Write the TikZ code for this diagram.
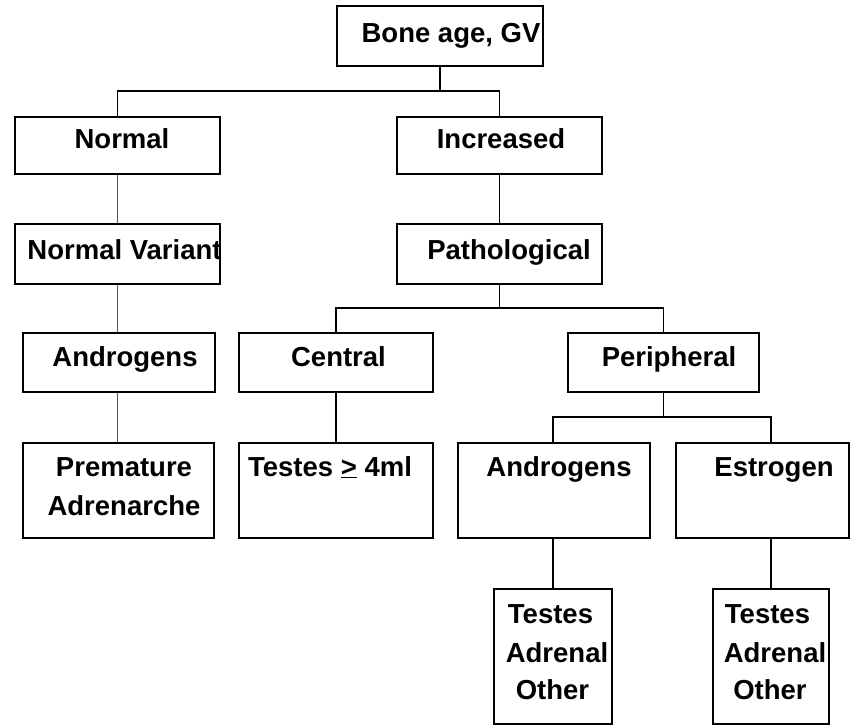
\documentclass[tikz,border=0pt]{standalone}
\usepackage{fontspec}
\setmainfont{Liberation Sans}
\begin{document}
\begin{tikzpicture}[x=1pt,y=-1pt,
  box/.style={draw=black, line width=2pt, inner sep=0pt},
  txt/.style={font=\bfseries\fontsize{27.5}{38}\selectfont, inner sep=0pt, anchor=base},
  link/.style={draw=black, line width=1.8pt},
  softlink/.style={draw=black!65, line width=1.5pt}]
\useasboundingbox (0,0) rectangle (850,725);
% boxes
\node[box, minimum width=206pt, minimum height=60pt] (bone) at (440,36) {};
\node[box, minimum width=205pt, minimum height=57pt] (normal) at (117.5,145.5) {};
\node[box, minimum width=205pt, minimum height=57pt] (incr) at (499.5,145.5) {};
\node[box, minimum width=205pt, minimum height=60pt] (nv) at (117.5,254) {};
\node[box, minimum width=205pt, minimum height=60pt] (path) at (499.5,254) {};
\node[box, minimum width=192pt, minimum height=59pt] (andL) at (119,362.5) {};
\node[box, minimum width=194pt, minimum height=59pt] (cent) at (336,362.5) {};
\node[box, minimum width=191pt, minimum height=59pt] (peri) at (663.5,362.5) {};
\node[box, minimum width=191pt, minimum height=95pt] (prem) at (118.5,490.5) {};
\node[box, minimum width=194pt, minimum height=95pt] (test) at (336,490.5) {};
\node[box, minimum width=192pt, minimum height=95pt] (andR) at (554,490.5) {};
\node[box, minimum width=173pt, minimum height=95pt] (estr) at (762.5,490.5) {};
\node[box, minimum width=118pt, minimum height=135pt] (taoL) at (553,656.5) {};
\node[box, minimum width=116pt, minimum height=135pt] (taoR) at (771,656.5) {};
% texts
\node[txt] (t-bone) at (451,42) {Bone age, GV};
\node[txt] (t-normal) at (122,148) {Normal};
\node[txt] (t-incr) at (501,148) {Increased};
\node[txt] (t-nv) at (124.5,259) {Normal Variant};
\node[txt] (t-path) at (509,259) {Pathological};
\node[txt] (t-andL) at (125,366) {Androgens};
\node[txt] (t-cent) at (338.5,366) {Central};
\node[txt] (t-peri) at (669,366) {Peripheral};
\node[txt] (t-prem1) at (124,476) {Premature};
\node[txt] (t-prem2) at (124,515) {Adrenarche};
\node[txt] (t-test) at (330,476) {Testes \underline{>} 4ml};
\node[txt] (t-andR) at (559,476) {Androgens};
\node[txt] (t-estr) at (774,476) {Estrogen};
\node[txt] (t-taoL1) at (550.5,623) {Testes};
\node[txt] (t-taoL2) at (557,662) {Adrenal};
\node[txt] (t-taoL3) at (552.5,699) {Other};
\node[txt] (t-taoR1) at (767.5,623) {Testes};
\node[txt] (t-taoR2) at (775,662) {Adrenal};
\node[txt] (t-taoR3) at (770,699) {Other};
% junctions
\coordinate (j1) at (0,91);
\coordinate (j2) at (0,308);
\coordinate (j3) at (0,417);
% connectors
\draw[link] (bone.south) -- (bone.south |- j1);
\draw[link] (normal.north) |- (j1 -| incr.north) -- (incr.north);
\draw[softlink] (normal.south) -- (nv.north);
\draw[softlink] (nv.south) -- (nv.south |- andL.north);
\draw[softlink] (nv.south |- andL.south) -- (nv.south |- prem.north);
\draw[link] (incr.south) -- (path.north);
\draw[link] (path.south) -- (path.south |- j2);
\draw[link] (cent.north) |- (j2 -| peri.north) -- (peri.north);
\draw[link] (cent.south) -- (test.north);
\draw[link] (peri.south) -- (peri.south |- j3);
\draw[link] (andR.north -| taoL.north) |- (j3 -| taoR.north) -- (estr.north -| taoR.north);
\draw[link] (andR.south -| taoL.north) -- (taoL.north);
\draw[link] (estr.south -| taoR.north) -- (taoR.north);
\end{tikzpicture}
\end{document}
